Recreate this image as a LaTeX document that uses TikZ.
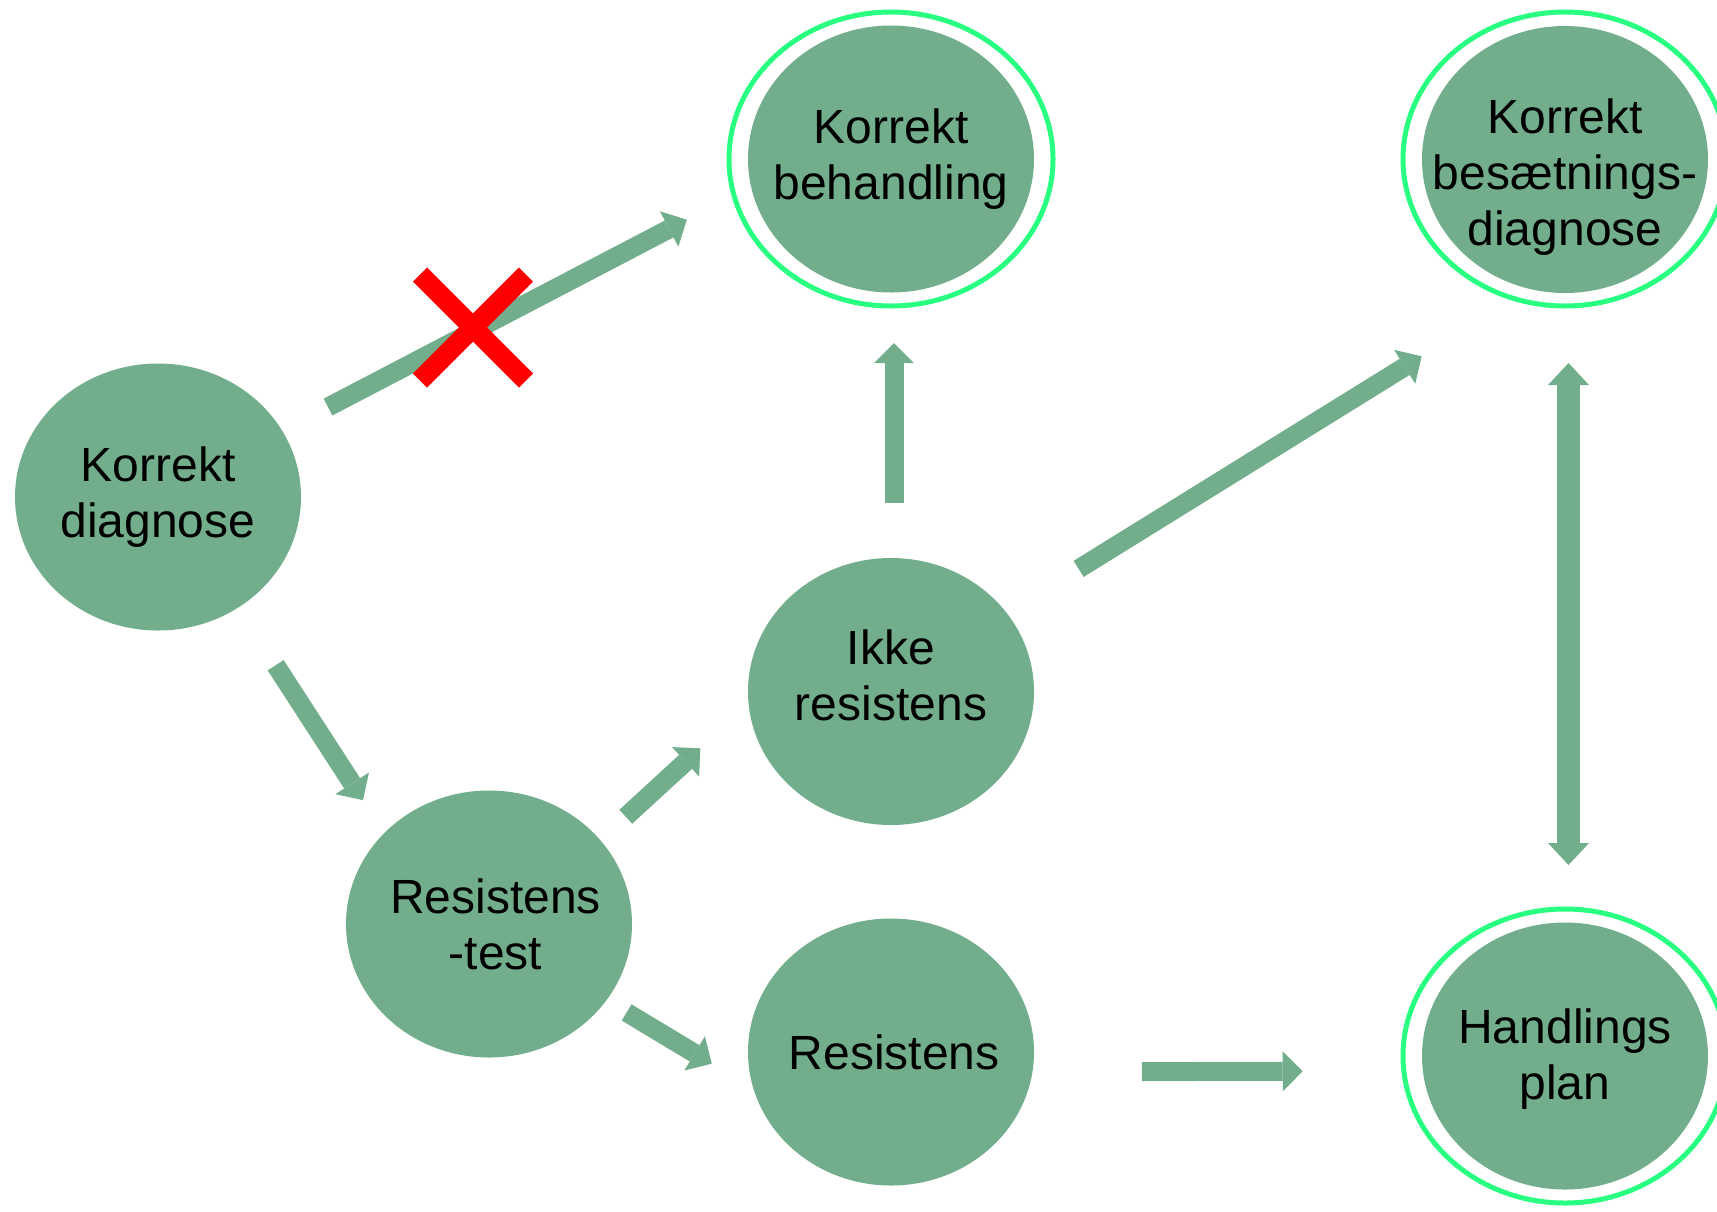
\documentclass[tikz,border=0pt]{standalone}
\usepackage{fontspec}
\setmainfont{Liberation Sans}
\usetikzlibrary{arrows.meta, shapes.geometric}

\definecolor{bubblegreen}{RGB}{114,174,139}
\definecolor{ringgreen}{RGB}{41,255,128}

\begin{document}
\begin{tikzpicture}[x=0.5pt, y=-0.5pt,
	bubble/.style={ellipse, fill=bubblegreen, minimum width=143pt, minimum height=133.5pt, inner sep=0pt, outer sep=0pt},
	ring/.style={ellipse, draw=ringgreen, line width=2.5pt, minimum width=162pt, minimum height=147pt, inner sep=0pt, outer sep=0pt},
	bubtext/.style={align=center, font=\fontsize{24pt}{28pt}\selectfont},
	flow/.style={color=bubblegreen, line width=9.5pt, -{Triangle[width=20pt, length=10pt, line width'=0pt]}},
	crossmark/.style={draw=red, line width=10pt}]
	\useasboundingbox (0,0) rectangle (1717,1211);

	\node[ring] (kbring) at (891,159) {};
	\node[ring] (kbdring) at (1565,159) {};
	\node[ring] (hpring) at (1565,1056) {};

	\node[bubble] (kd) at (158,497) {};
	\node[bubble] (kb) at (891,159) {};
	\node[bubble] (kbd) at (1565,159.5) {};
	\node[bubble] (ir) at (891,691.5) {};
	\node[bubble] (rt) at (489,924) {};
	\node[bubble] (rs) at (891,1052) {};
	\node[bubble] (hp) at (1565,1056) {};

	\node[bubtext] (kdtext) at (kd) {Korrekt\\diagnose};
	\node[bubtext] (kbtext) at (kb) {Korrekt\\behandling};
	\node[bubtext, text depth=2pt] (kbdtext) at ([yshift=-7.5pt]kbd.center) {Korrekt\\besætnings-\\diagnose};
	\node[bubtext] (irtext) at ([yshift=8pt]ir.center) {Ikke\\resistens};
	\node[bubtext] (rttext) at ([xshift=3.3pt]rt.center) {Resistens\\-test};
	\node[bubtext] (rstext) at ([xshift=1.6pt]rs.center) {Resistens};
	\node[bubtext] (hptext) at ([yshift=-1.5pt]hp.center) {Handlings\\plan};

	\path[flow]
		(kd.28.1) edge[shorten <=25.8pt, shorten >=36.2pt] (kb.191.2)
		([xshift=1.5pt]ir.north) edge[shorten <=27.5pt, shorten >=25.3pt] ([xshift=1.5pt]kb.south)
		(ir.34.7) edge[shorten <=42.2pt, shorten >=63.9pt] (kbd.255.1)
		(kd.306.5) edge[shorten <=34.4pt, shorten >=19.6pt] (rt.139)
		(rt.37.7) edge[shorten <=17.3pt, shorten >=32.8pt] (ir.185.2)
		(rt.327.5) edge[shorten <=11.8pt, shorten >=24.4pt] (rs.195.8)
		(rs.352.4) edge[shorten <=54.7pt, shorten >=60.1pt] (hp.186)
		;
	\path[flow, line width=11.5pt, {Triangle[width=20.5pt, length=11pt, line width'=0pt]}-{Triangle[width=20.5pt, length=11pt, line width'=0pt]}]
		([xshift=1.75pt]kbd.south) edge[shorten <=35pt, shorten >=28.75pt] ([xshift=1.75pt]hp.north);

	% the blocked path
	\coordinate (cross) at (473,327.5);
	\draw[crossmark] (cross) ++(-53,-53) -- ++(106,106);
	\draw[crossmark] (cross) ++(53,-53) -- ++(-106,106);
\end{tikzpicture}
\end{document}
